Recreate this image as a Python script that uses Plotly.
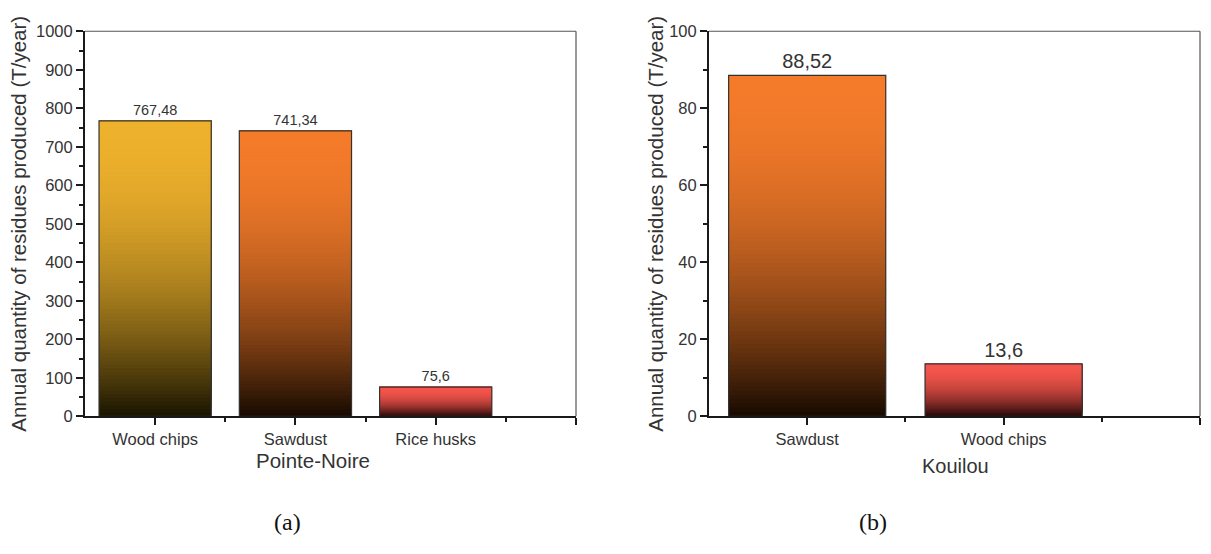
import plotly.graph_objects as go

# ---------------- data ----------------
pn_categories = ["Wood chips", "Sawdust", "Rice husks"]
pn_values = [767.48, 741.34, 75.6]
pn_labels = ["767,48", "741,34", "75,6"]

ko_categories = ["Sawdust", "Wood chips"]
ko_values = [88.52, 13.6]
ko_labels = ["88,52", "13,6"]

pn_yticks = list(range(0, 1001, 100))
ko_yticks = list(range(0, 101, 20))

pn_title = "Pointe-Noire"
ko_title = "Kouilou"
y_title = "Annual quantity of residues produced (T/year)"

# ---------------- style ----------------
YELLOW = ((238, 177, 44), (24, 20, 0))
ORANGE = ((244, 123, 42), (22, 10, 0))
RED = ((245, 86, 76), (34, 8, 8))
pn_grad = [YELLOW, ORANGE, RED]
ko_grad = [ORANGE, RED]

N_SEG = 80
TXT = "#333333"
AX = "#1a1a1a"
FONT = "Arial, Liberation Sans, sans-serif"
W, H = 1211, 554
PLOT_TOP, PLOT_BOT = 23, 421


def px_x(v):
    return v / W


def px_y(v):
    return 1 - v / H


def shade(top, bottom, f):
    g = 1 - (1 - f) ** 2
    return "rgb(%d,%d,%d)" % tuple(round(b + (t - b) * g) for t, b in zip(top, bottom))


fig = go.Figure()


def add_panel(values, labels, grads, xa, ya, label_size):
    pos = list(range(1, len(values) + 1))
    # gradient: each layer spans from its start up to the bar top, later layers paint over
    for k in range(N_SEG):
        bases = [v * k / N_SEG for v in values]
        heights = [v - b for v, b in zip(values, bases)]
        colors = [shade(t, b, (k + 0.5) / N_SEG) for (t, b) in grads]
        fig.add_trace(go.Bar(
            x=pos, y=heights, base=bases, width=0.8,
            marker=dict(color=colors, line=dict(width=0)),
            hoverinfo="skip", showlegend=False, xaxis=xa, yaxis=ya))
    fig.add_trace(go.Bar(
        x=pos, y=values, width=0.8,
        marker=dict(color="rgba(0,0,0,0)", line=dict(color="#333333", width=1.2)),
        text=labels, textposition="outside", cliponaxis=False,
        textfont=dict(family=FONT, size=label_size, color=TXT),
        hoverinfo="skip", showlegend=False, xaxis=xa, yaxis=ya))


add_panel(pn_values, pn_labels, pn_grad, "x", "y", 14.5)
add_panel(ko_values, ko_labels, ko_grad, "x2", "y2", 20)

Y_DOM = [px_y(PLOT_BOT), px_y(PLOT_TOP)]


def xaxis_cfg(cats, dom, anchor):
    n = len(cats)
    return dict(
        domain=dom, range=[0.5, n + 1], tickmode="array", anchor=anchor,
        tickvals=list(range(1, n + 2)), ticktext=cats + [""],
        ticks="outside", ticklen=7, tickwidth=1.5, tickcolor=AX,
        minor=dict(ticks="outside", ticklen=4, tickwidth=1.5, tickcolor=AX,
                   tickmode="array", tickvals=[i + 0.5 for i in range(1, n + 1)]),
        showline=True, linecolor=AX, linewidth=2, showgrid=False, zeroline=False,
        tickfont=dict(family=FONT, size=16.5, color=TXT), fixedrange=True)


def yaxis_cfg(ticks, minor_step, anchor):
    return dict(
        domain=Y_DOM, range=[ticks[0], ticks[-1]], tickmode="array", tickvals=ticks,
        ticks="outside", ticklen=7, tickwidth=1.5, tickcolor=AX,
        minor=dict(ticks="outside", ticklen=4, tickwidth=1.5, tickcolor=AX, dtick=minor_step),
        showline=True, linecolor=AX, linewidth=2, showgrid=False, zeroline=False,
        tickfont=dict(family=FONT, size=16.5, color=TXT), anchor=anchor, fixedrange=True)


fig.update_layout(
    width=W, height=H, barmode="overlay",
    margin=dict(l=0, r=0, t=0, b=0, pad=0),
    paper_bgcolor="white", plot_bgcolor="white",
    xaxis=xaxis_cfg(pn_categories, [px_x(85), px_x(576)], "y"),
    yaxis=yaxis_cfg(pn_yticks, 50, "x"),
    xaxis2=xaxis_cfg(ko_categories, [px_x(709), px_x(1200)], "y2"),
    yaxis2=yaxis_cfg(ko_yticks, 10, "x2"),
)

# top / right frame lines (thinner, grey)
for xr, yr in (("x domain", "y domain"), ("x2 domain", "y2 domain")):
    fig.add_shape(type="line", xref=xr, yref=yr, x0=0, x1=1, y0=1, y1=1,
                  line=dict(color="#555555", width=1.2))
    fig.add_shape(type="line", xref=xr, yref=yr, x0=1, x1=1, y0=0, y1=1,
                  line=dict(color="#555555", width=1.2))

mid_y = px_y((PLOT_TOP + PLOT_BOT) / 2)
SERIF = "Liberation Serif, Times New Roman, serif"
annos = [
    dict(text=y_title, x=px_x(19), y=mid_y, textangle=-90, size=20.5, fam=FONT, col=TXT),
    dict(text=y_title, x=px_x(656), y=mid_y, textangle=-90, size=20.5, fam=FONT, col=TXT),
    dict(text=pn_title, x=px_x(313), y=px_y(467), textangle=0, size=20.5, fam=FONT, col=TXT),
    dict(text=ko_title, x=px_x(955), y=px_y(472), textangle=0, size=20, fam=FONT, col=TXT),
    dict(text="(a)", x=px_x(287), y=px_y(530), textangle=0, size=24, fam=SERIF, col="#111111"),
    dict(text="(b)", x=px_x(873), y=px_y(530), textangle=0, size=24, fam=SERIF, col="#111111"),
]
for a in annos:
    fig.add_annotation(text=a["text"], x=a["x"], y=a["y"], xref="paper", yref="paper",
                       xanchor="center", yanchor="middle", showarrow=False,
                       textangle=a["textangle"],
                       font=dict(family=a["fam"], size=a["size"], color=a["col"]))

fig.write_html("out.html",
               config={"displayModeBar": False},
               post_script="document.body.style.margin='0';document.body.style.overflow='hidden';")
